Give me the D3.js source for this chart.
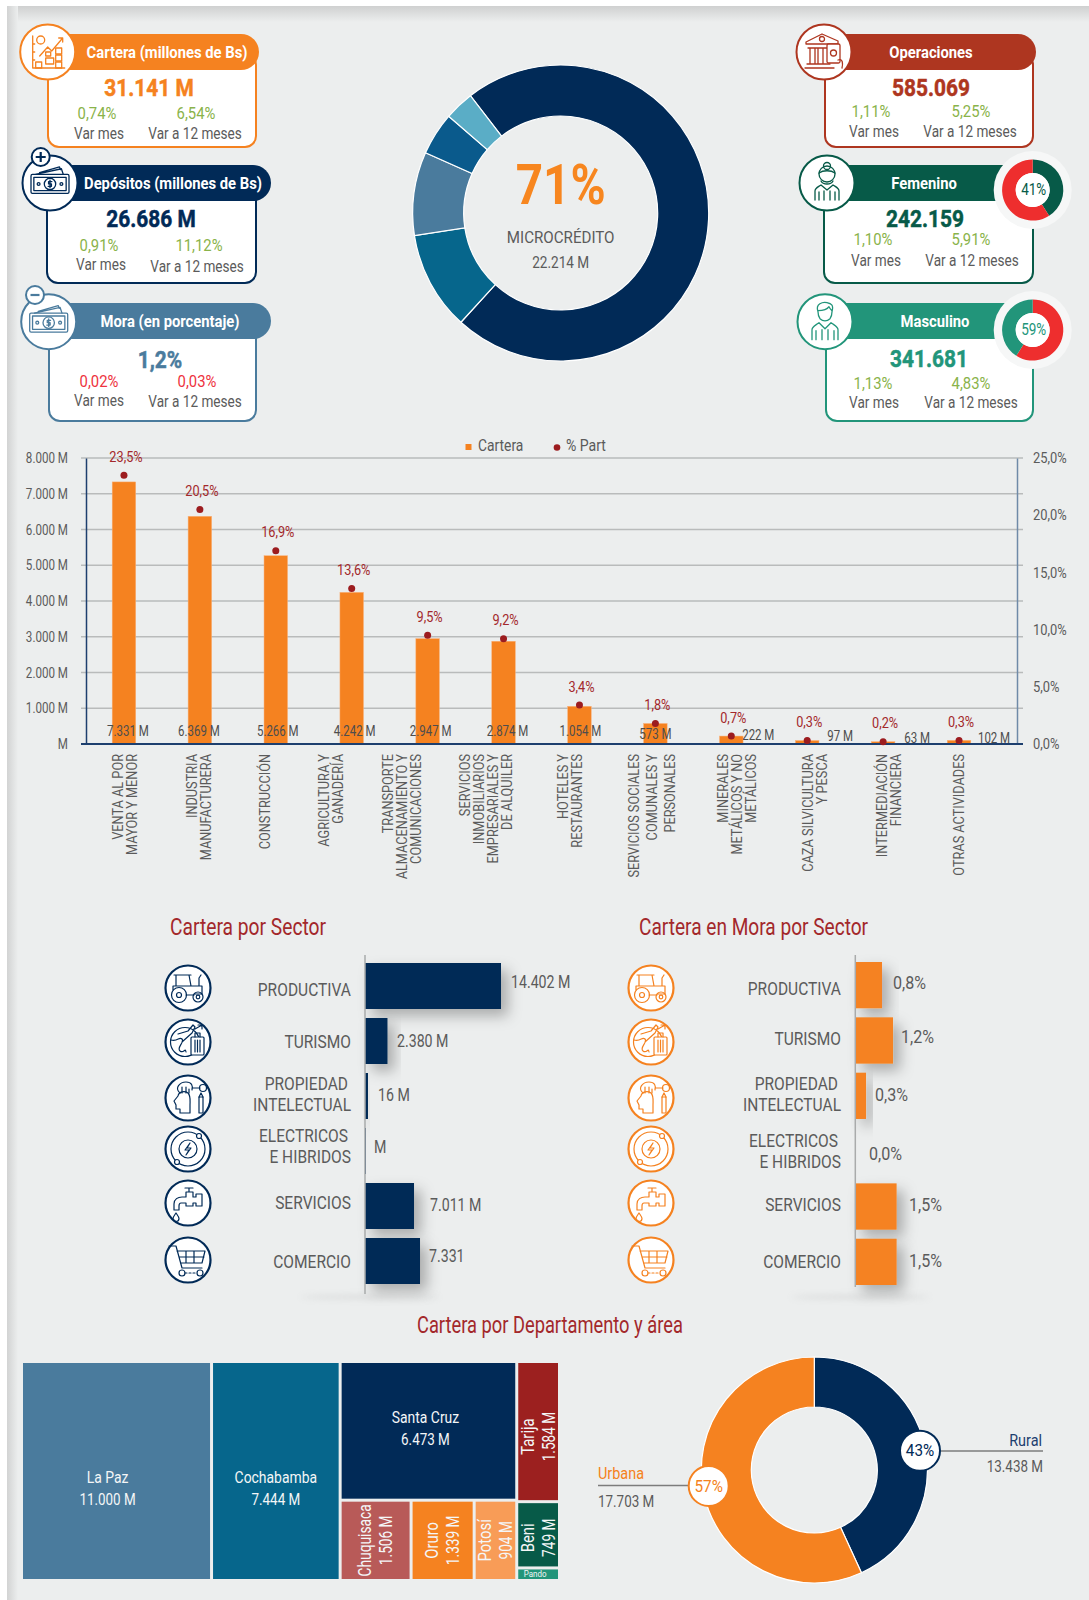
<!DOCTYPE html>
<html><head><meta charset="utf-8">
<script src="https://cdn.jsdelivr.net/npm/d3@7"></script>
<style>
html,body{margin:0;padding:0;background:#fff}
svg{display:block}
text{font-family:"Roboto","Liberation Sans",sans-serif}
</style></head><body><div id="c"></div>
<script>
// ---------- DATA ----------
const categories = [
 ["VENTA AL POR","MAYOR Y MENOR"],["INDUSTRIA","MANUFACTURERA"],["CONSTRUCCIÓN"],["AGRICULTURA Y","GANADERÍA"],
 ["TRANSPORTE","ALMACENAMIENTO Y","COMUNICACIONES"],["SERVICIOS","INMOBILIARIOS","EMPRESARIALES Y","DE ALQUILER"],
 ["HOTELES Y","RESTAURANTES"],["SERVICIOS SOCIALES","COMUNALES Y","PERSONALES"],["MINERALES","METÁLICOS Y NO","METÁLICOS"],
 ["CAZA SILVICULTURA","Y PESCA"],["INTERMEDIACIÓN","FINANCIERA"],["OTRAS ACTIVIDADES"]];
const cartera = [7331,6369,5266,4242,2947,2874,1054,573,222,97,63,102];
const part = [23.5,20.5,16.9,13.6,9.5,9.2,3.4,1.8,0.7,0.3,0.2,0.3];
const leftTicks = [0,1000,2000,3000,4000,5000,6000,7000,8000];
const rightTicks = [0,5,10,15,20,25];
const microShare = [22214,3315,2802,1435,991];
const sectorNames = [["PRODUCTIVA"],["TURISMO"],["PROPIEDAD","INTELECTUAL"],["ELECTRICOS","E HIBRIDOS"],["SERVICIOS"],["COMERCIO"]];
const sectorBars = [14402,2380,316,100,5190,5826];
const sectorLabels = ["14.402 M","2.380 M","16 M","M","7.011 M","7.331"];
const moraBars = [0.97,1.37,0.39,0,1.5,1.5];
const moraLabels = ["0,8%","1,2%","0,3%","0,0%","1,5%","1,5%"];
const deptNames = ["La Paz","Cochabamba","Santa Cruz","Chuquisaca","Oruro","Potosí","Tarija","Beni","Pando"];
const deptValues = [11000,7444,6473,1506,1339,904,1584,749,142];
const areaNames = ["Rural","Urbana"];
const areaValues = [13438,17703];
const femShare = [41,59];
const mascShare = [59,41];

// ---------- SETUP ----------
const NAVY="#012a57",ORANGE="#f58220",STEEL="#4a7b9d",TEAL="#06668c",BRICK="#ae3620",DGREEN="#075a48",GREEN="#22957a",
 GREY="#5b5b5b",MAROON="#a3282b",LGREEN="#8ab34a",RED="#ee3340",BG="#eceeee";
const svg=d3.select("#c").append("svg").attr("width",1089).attr("height",1600);
const defs=svg.append("defs");
let g1=defs.append("linearGradient").attr("id","st").attr("x1",0).attr("x2",0).attr("y1",0).attr("y2",1);
g1.append("stop").attr("offset",0).attr("stop-color","#cfd0d0");g1.append("stop").attr("offset",1).attr("stop-color",BG);
let g2=defs.append("linearGradient").attr("id","sl");
g2.append("stop").attr("offset",0).attr("stop-color","#d2d3d3");g2.append("stop").attr("offset",1).attr("stop-color",BG);
defs.append("filter").attr("id","ds").attr("x","-40%").attr("y","-40%").attr("width","200%").attr("height","200%")
 .append("feDropShadow").attr("dx",7).attr("dy",7).attr("stdDeviation",7).attr("flood-color","#000").attr("flood-opacity",.28);
defs.append("filter").attr("id","bl").attr("x","-30%").attr("y","-200%").attr("width","160%").attr("height","500%")
 .append("feGaussianBlur").attr("stdDeviation",3);
svg.append("rect").attr("width",1089).attr("height",1600).attr("fill","#fff");
svg.append("rect").attr("x",7).attr("y",6).attr("width",1082).attr("height",1594).attr("fill",BG);
svg.append("rect").attr("x",7).attr("y",6).attr("width",1082).attr("height",16).attr("fill","url(#st)");
svg.append("rect").attr("x",7).attr("y",6).attr("width",11).attr("height",1594).attr("fill","url(#sl)");

// text helper: Roboto is condensed horizontally (sx) to reach the reference's narrow grotesque widths
function T(p,x,y,s,o={}){
 const e=p.append("text").text(s)
  .attr("transform",`translate(${x},${y})${o.rot!=null?` rotate(${o.rot})`:""} scale(${o.sx||.84},1)`)
  .attr("font-size",o.size||16).attr("fill",o.fill||GREY).attr("text-anchor",o.anchor||"middle")
  .attr("dominant-baseline","central");
 if(o.weight)e.attr("font-weight",o.weight);
 if(o.stroke)e.attr("stroke",o.fill).attr("stroke-width",o.stroke);
 return e;
}

// ---------- ICONS (local box about ±18) ----------
const icons={
 tractor:g=>{g.append("path").attr("d","M-14-13H3M-12-13V-2M1-13L3-2M-15-2H14V6H7M-2 7H6M-15-2V2M11-2V-10L13-13");
  [[-9,7,7.5],[-9,7,2.5],[10,9,5],[10,9,1.8]].forEach(c=>g.append("circle").attr("cx",c[0]).attr("cy",c[1]).attr("r",c[2]));},
 travel:g=>{g.append("circle").attr("cx",-3).attr("cy",0).attr("r",14.5);
  g.append("path").attr("d","M-17-2C-10 0-9-6-6-3S-12 6-8 9-3 5-2 10M-10-8L0-11 5-17 7-15 4-9 -6 0M7-13L14-17M10-17H14V-13");
  g.append("rect").attr("x",3).attr("y",-5).attr("width",13).attr("height",18).attr("rx",1).attr("fill","#fff");
  g.append("path").attr("d","M7-5V-9H12V-5M7-2V10M9.5-2V10M12-2V10");},
 idea:g=>{g.append("path").attr("d","M-14 3L-10-2C-9-7-3-7 0-5 3-2 2 3 2 7V15H-8V11H-12V7Z");
  g.append("path").attr("d","M-8-5C-14-10-8-16-2-16S5-12 4-8M-6-5V-11M-2-5V-11M1-5V-9M4-10H12");
  g.append("circle").attr("cx",15).attr("cy",-10).attr("r",3.5);
  g.append("rect").attr("x",11).attr("y",-1).attr("width",4).attr("height",16);
  g.append("path").attr("d","M11-1L13-5 15-1");},
 energy:g=>{g.append("circle").attr("r",17);g.append("circle").attr("r",9);
  g.append("path").attr("d","M2-6L-3 1H1L-2 6 3-1H-1Z");
  g.append("circle").attr("cx",11).attr("cy",-13).attr("r",2.5).attr("fill","#fff");g.append("circle").attr("cx",-11).attr("cy",13).attr("r",2.5).attr("fill","#fff");},
 tap:g=>{g.append("path").attr("d","M-14 7V1C-14-4-10-6-6-6H-2V-11H5V-6H8V-9H14V3H8V0H5V3H-2V0H-7C-8 0-9 1-9 3V7ZM1-11V-15M-3-15H5");
  g.append("path").attr("d","M-12 10C-14 13-15 14-15 15.5A3 3 0 0 0-9 15.5C-9 14-10 13-12 10Z");},
 cart:g=>{g.append("path").attr("d","M-19-14H-12L-6 8H14M-11-9H17L14 3H-7.5M-2-9V3M6-9V3M-9-3H16");
  g.append("circle").attr("cx",-6).attr("cy",13).attr("r",3);g.append("circle").attr("cx",12).attr("cy",13).attr("r",3);
  g.append("path").attr("d","M-3 13H9").attr("stroke-dasharray","2 2");},
 chart:g=>{g.append("path").attr("d","M-15-16V16H17M-15-8H-13M-15 0H-13M-15 8H-13M-8 4L0-5 4-1 15-14M11-14H15V-10");
  g.append("circle").attr("cx",-7).attr("cy",-12).attr("r",4);
  [[-12,10,6],[-2,6,8],[8,-4,6],[8,3,6],[8,10,6],[-2,0,5]].forEach(r=>g.append("rect").attr("x",r[0]).attr("y",r[1]).attr("width",r[2]).attr("height",r[2]==5?4:6));},
 money:g=>{g.append("path").attr("d","M-15-9L12-15 14-9M-11-11L10-17 11-14");
  g.append("rect").attr("x",-20).attr("y",-9).attr("width",40).attr("height",20).attr("rx",1.5);
  g.append("rect").attr("x",-17).attr("y",-6).attr("width",34).attr("height",14);
  g.append("circle").attr("cy",1).attr("r",6);g.append("circle").attr("cx",-12).attr("cy",1).attr("r",1.5);g.append("circle").attr("cx",12).attr("cy",1).attr("r",1.5);
  g.append("path").attr("d","M2-1.5H-1.5V1H1.5V3.5H-2M0-3V5");},
 bank:g=>{g.append("path").attr("d","M-18-10L-2-18 14-11V-8H-18ZM-16-4H6M-14-4V12M-9-4V12M-6-4V12M-1-4V12M-17 12H6M-19 16H10");
  g.append("circle").attr("cx",-2).attr("cy",-13).attr("r",2.5);
  g.append("rect").attr("x",3).attr("y",-8).attr("width",13).attr("height",19).attr("rx",1.5).attr("fill","#fff");
  g.append("circle").attr("cx",9.5).attr("cy",1).attr("r",3);
  g.append("path").attr("d","M14 8C19 6 19 12 18 16");},
 woman:g=>{g.append("circle").attr("cy",-17).attr("r",3.5);g.append("circle").attr("cy",-9).attr("r",8);
  g.append("path").attr("d","M-8-10C-4-13 4-13 8-10M-6-2C-4 2 4 2 6-2M-12 17V8C-12 5-9 4-6 2L0 7 6 2C9 4 12 5 12 8V17M-8 17V9M8 17V9M-3 17V8M3 17V8");},
 man:g=>{g.append("path").attr("d","M-7-10C-10-18-2-20 2-19S9-17 7-10C7-8 7-6 5-3 2 0-2 0-5-3-7-6-7-8-7-10ZM-7-11C-3-11 2-12 4-15 5-13 6-12 7-11");
  g.append("path").attr("d","M-13 18V8C-13 5-10 4-6 1L0 7 6 1C10 4 13 5 13 8V18M-9 18V9M9 18V9M-3 18V8M3 18V8");}
};
function icon(p,name,x,y,r,color,k=1,sw=1.4,circ=2.5){
 p.append("circle").attr("cx",x).attr("cy",y).attr("r",r).attr("fill","#fff").attr("stroke",color).attr("stroke-width",circ);
 const g=p.append("g").attr("transform",`translate(${x},${y}) scale(${k})`).attr("fill","none").attr("stroke",color)
  .attr("stroke-width",sw/k).attr("stroke-linejoin","round").attr("stroke-linecap","round");
 icons[name](g);
}

// ---------- KPI CARDS ----------
const cards=[
 {c:ORANGE,box:[48,256,147],head:[47,259,34],circ:[47.7,52],ic:"chart",title:"Cartera (millones de Bs)",tx:167,val:"31.141 M",vx:149,vy:87,
  a:["0,74%",97,113],b:["6,54%",196,113],m:[99,133],y:[195,133],pc:LGREEN},
 {c:NAVY,box:[47,256,283],head:[47,271,165],circ:[50,183],ic:"money",title:"Depósitos (millones de Bs)",tx:173,val:"26.686 M",vx:151,vy:218.5,
  a:["0,91%",99,245],b:["11,12%",199,245],m:[101,264.5],y:[197,266],pc:LGREEN,sign:["+",40.7,157]},
 {c:STEEL,box:[49,256,421],head:[47,271,303],circ:[48.7,321.7],ic:"money",title:"Mora (en porcentaje)",tx:170,val:"1,2%",vx:160,vy:359,
  a:["0,02%",99,381],b:["0,03%",197,381],m:[99,400.6],y:[195,401],pc:RED,sign:["-",35,295]},
 {c:BRICK,box:[825,1033,147],head:[824,1036,34],circ:[824,52],ic:"bank",title:"Operaciones",tx:931,val:"585.069",vx:931,vy:87,
  a:["1,11%",871,111],b:["5,25%",971,111],m:[874,131],y:[970,131],pc:LGREEN},
 {c:DGREEN,box:[824,1033,283],head:[827,1005,165],circ:[827,183],ic:"woman",title:"Femenino",tx:924,val:"242.159",vx:925,vy:218.5,flat:1,
  a:["1,10%",873,239],b:["5,91%",971,239],m:[876,260],y:[972,260],pc:LGREEN,
  donut:{cy:190,vals:femShare,cols:[DGREEN,"#ee2e2e"],lab:"41%"}},
 {c:GREEN,box:[826,1033,421],head:[825,1005,303],circ:[825,321.7],ic:"man",title:"Masculino",tx:935,val:"341.681",vx:929,vy:358,flat:1,
  a:["1,13%",873,383],b:["4,83%",971,383],m:[874,402.5],y:[971,402.5],pc:LGREEN,
  donut:{cy:330,vals:mascShare,cols:["#ee2e2e",GREEN],lab:"59%"}}
];
const cardLayer=svg.append("g");
cards.forEach(d=>{
 const g=cardLayer.append("g"),y0=d.head[2];
 g.append("rect").attr("x",d.box[0]).attr("y",y0+20).attr("width",d.box[1]-d.box[0]).attr("height",d.box[2]-y0-20)
  .attr("rx",11).attr("fill","#fff").attr("stroke",d.c).attr("stroke-width",2);
 g.append("rect").attr("x",d.head[0]).attr("y",y0).attr("width",d.head[1]-d.head[0]).attr("height",36)
  .attr("rx",d.flat?0:18).attr("fill",d.c);
 icon(g,d.ic,d.circ[0],d.circ[1],27.5,d.c,d.ic=="money"?.95:1,1.3,2);
 if(d.sign){
  const [s,sx,sy]=d.sign;
  g.append("circle").attr("cx",sx).attr("cy",sy).attr("r",9).attr("fill","#fff").attr("stroke",d.c).attr("stroke-width",2);
  g.append("path").attr("d",s=="+"?`M${sx-5} ${sy}H${sx+5}M${sx} ${sy-5}V${sy+5}`:`M${sx-4.5} ${sy}H${sx+4.5}`).attr("stroke",d.c).attr("stroke-width",2.2);
 }
 T(g,d.tx,y0+18,d.title,{size:17,weight:"bold",fill:"#fff",sx:.87});
 T(g,d.vx,d.vy,d.val,{size:24,weight:"bold",fill:d.c,sx:.87,stroke:.5});
 T(g,d.a[1],d.a[2],d.a[0],{size:16.5,fill:d.pc,sx:.9});
 T(g,d.b[1],d.b[2],d.b[0],{size:16.5,fill:d.pc,sx:.9});
 T(g,d.m[0],d.m[1],"Var mes",{size:17,sx:.8});
 T(g,d.y[0],d.y[1],"Var a 12 meses",{size:17,sx:.8});
 if(d.donut){
  const cx=1032.7,cy=d.donut.cy;
  g.append("circle").attr("cx",cx).attr("cy",cy).attr("r",39).attr("fill","#f6f7f7");
  const pie=d3.pie().sort(null)(d.donut.vals),arc=d3.arc().innerRadius(17).outerRadius(30.6);
  g.append("g").attr("transform",`translate(${cx},${cy})`).selectAll("path").data(pie).join("path").attr("d",arc).attr("fill",(e,i)=>d.donut.cols[i]);
  g.append("circle").attr("cx",cx).attr("cy",cy).attr("r",17).attr("fill","#fff");
  T(g,cx+1,cy,d.donut.lab,{size:16.5,fill:d.c,sx:.82});
 }
});

// ---------- CENTRAL DONUT ----------
const mc=svg.append("g").attr("transform","translate(560.7,213)");
const microCols=[NAVY,TEAL,STEEL,"#0a5a8c","#5aadc6"];
const a0=-37.6*Math.PI/180;
mc.selectAll("path").data(d3.pie().sort(null).startAngle(a0).endAngle(a0+2*Math.PI)(microShare)).join("path")
 .attr("d",d3.arc().innerRadius(97).outerRadius(148)).attr("fill",(d,i)=>microCols[i]).attr("stroke","#fff").attr("stroke-width",1.2);
T(mc,0,-28,"71%",{size:56,weight:"bold",fill:"#f7861f",sx:.85});
T(mc,0,24,"MICROCRÉDITO",{size:17,sx:.89});
T(mc,0,49,"22.214 M",{size:17,sx:.8});

// ---------- BAR + DOT CHART ----------
const yL=d3.scaleLinear().domain([0,8000]).range([744,458]);
const yR=d3.scaleLinear().domain([0,25]).range([744,458]);
const xB=d3.scaleBand().domain(d3.range(12)).range([86,997]).paddingInner(.69).paddingOuter(.345);
const fmtM=v=>v==0?"M":d3.format(",")(v).replace(/,/g,".")+" M";
const condense=(ax,k)=>ax.selectAll("text").each(function(){const t=d3.select(this),x=+t.attr("x");
  t.attr("x",0).attr("transform",`translate(${x},0) scale(${k},1)`).attr("font-size",14.5).attr("fill",GREY).attr("font-family",null);});
const ch=svg.append("g");
ch.selectAll("line.grid").data(leftTicks).join("line").attr("x1",81).attr("x2",1023).attr("y1",d=>yL(d)).attr("y2",d=>yL(d)).attr("stroke","#b9bbbb").attr("stroke-width",1.5);
const axL=ch.append("g").attr("transform","translate(86,0)").call(d3.axisLeft(yL).tickValues(leftTicks).tickFormat(fmtM).tickSize(0).tickPadding(18));
axL.select("path").attr("stroke","#1d3f6e").attr("stroke-width",1.5);
condense(axL,.8);
const axR=ch.append("g").attr("transform","translate(1017,0)").call(d3.axisRight(yR).tickValues(rightTicks).tickFormat(d=>d.toFixed(1).replace(".",",")+"%").tickSize(0).tickPadding(16));
axR.select("path").attr("stroke","#6f8aa8").attr("stroke-width",1.5);
condense(axR,.89);
ch.selectAll("rect.b").data(cartera).join("rect").attr("x",(d,i)=>xB(i)).attr("width",xB.bandwidth()).attr("y",d=>yL(d)).attr("height",d=>744-yL(d)).attr("fill",ORANGE).attr("stroke","#f9b078").attr("stroke-width",.5);
ch.append("line").attr("x1",81).attr("x2",1023).attr("y1",744).attr("y2",744).attr("stroke","#1d3f6e").attr("stroke-width",2);
ch.selectAll("circle.d").data(part).join("circle").attr("cx",(d,i)=>xB(i)+xB.bandwidth()/2).attr("cy",d=>yR(d)).attr("r",3.5).attr("fill","#9c1c1f");
part.forEach((p,i)=>T(ch,xB(i)+xB.bandwidth()/2+2,yR(p)-18,p.toFixed(1).replace(".",",")+"%",{size:14,fill:MAROON,sx:.91}));
const valDx=[4,-1,2,3,3,4,1,0,27,33,34,35], valY=[731,731,731,731,731,731,731,734,735,736,738,738];
cartera.forEach((v,i)=>T(ch,xB(i)+xB.bandwidth()/2+valDx[i],valY[i],d3.format(",")(v).replace(/,/g,".")+" M",{size:14,fill:"#4d4d4d",sx:.82}));
const catDx=[1,-1,-10,-20,-25,-17,-9,-3,6,8,6,0];
categories.forEach((c,i)=>{
 const cx=xB(i)+xB.bandwidth()/2+catDx[i], st=i==7?18:14;
 c.forEach((l,j)=>{
  const x=cx+(j-(c.length-1)/2)*st;
  T(ch,x,754,l,{size:14,rot:-90,anchor:"end",sx:.91});
 });
});
// legend
ch.append("rect").attr("x",465.5).attr("y",444).attr("width",6).attr("height",6).attr("fill",ORANGE);
T(ch,478,445.5,"Cartera",{size:16,anchor:"start",sx:.865});
ch.append("circle").attr("cx",557).attr("cy",447.5).attr("r",3.3).attr("fill","#9c1c1f");
T(ch,566,445.5,"% Part",{size:16,anchor:"start",sx:.88});

// ---------- SECTOR BARS ----------
const title=(x,y,s,sx)=>T(svg,x,y,s,{size:23,fill:MAROON,anchor:"start",sx});
title(170,927,"Cartera por Sector",.836);
title(639,927,"Cartera en Mora por Sector",.83);
title(417,1325,"Cartera por Departamento y área",.796);
const iconNames=["tractor","travel","idea","energy","tap","cart"];
const iconY=[988,1042,1098,1149,1203,1260];
function sectorChart(o){
 const g=svg.append("g");
 const yS=d3.scaleBand().domain(d3.range(6)).range(o.yr).paddingInner(.1636);
 const xS=d3.scaleLinear().domain([0,o.max]).range([o.x0,o.x0+o.w]);
 g.append("ellipse").attr("cx",o.x0+5).attr("cy",1297).attr("rx",70).attr("ry",2).attr("fill","#aaa").attr("filter","url(#bl)").attr("opacity",.3);
 g.selectAll("rect.s").data(o.vals).join("rect").attr("x",o.x0).attr("y",(d,i)=>yS(i)).attr("width",d=>xS(d)-o.x0).attr("height",yS.bandwidth())
  .attr("fill",o.color).attr("filter",d=>d>o.max*.02?"url(#ds)":null);
 g.append("line").attr("x1",o.x0).attr("x2",o.x0).attr("y1",955).attr("y2",o.yb).attr("stroke","#a9abab").attr("stroke-width",1.5);
 sectorNames.forEach((n,i)=>n.forEach((l,j)=>T(g,o.lx-(j==0&&n.length>1?3:0),o.ly[i]+j*21,l,{size:18.5,anchor:"end",sx:.84})));
 o.labels.forEach((l,i)=>T(g,o.vx[i],o.vy[i],l,{size:17.5,anchor:"start",sx:o.vsx}));
 iconNames.forEach((n,i)=>icon(g,n,o.ix,iconY[i],22.5,o.color,1,1.2,2.2));
}
sectorChart({x0:365,w:136,max:14402,yr:[963,1284],yb:1294,vals:sectorBars,color:NAVY,lx:351,ly:[990,1042,1084,1136,1203,1262],vsx:.81,
 labels:sectorLabels,vx:[511,397,378,374,430,429],vy:[982,1041,1095,1147,1205,1256],ix:188});
sectorChart({x0:855.3,w:41.3,max:1.5,yr:[962,1285],yb:1287,vals:moraBars,color:ORANGE,lx:841,ly:[989,1039,1084,1141,1205,1262],vsx:.92,
 labels:moraLabels,vx:[893,901,875,869,909,909],vy:[983,1037,1095,1154,1205,1261],ix:651});

// ---------- TREEMAP ----------
const deptColors=[STEEL,TEAL,NAVY,"#b85a58",ORANGE,"#f89c57","#9c201f",DGREEN,GREEN];
const leaf=i=>({i,value:deptValues[i]});
const tree={tile:"dice",children:[leaf(0),leaf(1),{tile:"dice",children:[
  {tile:"slice",children:[leaf(2),{tile:"dice",children:[leaf(3),leaf(4),leaf(5)]}]},
  {tile:"slice",children:[leaf(6),leaf(7),leaf(8)]}]}]};
const root=d3.hierarchy(tree).sum(d=>d.value||0);
d3.treemap().size([535,216]).paddingInner(3).round(false)
 .tile((n,x0,y0,x1,y1)=>(n.data.tile=="slice"?d3.treemapSlice:d3.treemapDice)(n,x0,y0,x1,y1))(root);
const tm=svg.append("g").attr("transform","translate(23,1363)");
tm.selectAll("rect").data(root.leaves()).join("rect").attr("x",d=>d.x0).attr("y",d=>d.y0).attr("width",d=>d.x1-d.x0).attr("height",d=>d.y1-d.y0).attr("fill",d=>deptColors[d.data.i]);
const WH="#f4f6f7";
root.leaves().forEach(d=>{
 const i=d.data.i,n=deptNames[i],v=d3.format(",")(deptValues[i]).replace(/,/g,".")+" M",
  w=d.x1-d.x0,cx=(d.x0+d.x1)/2,cy=(d.y0+d.y1)/2;
 if(i==8){T(tm,cx-3,cy,n,{size:9.5,fill:WH});return;}
 if(w>100){const ox=i==0?-9:i==1?0:-3;
  const y=i==2?65.5:125.5;
  T(tm,cx+ox,y-10.5,n,{size:17,fill:WH,sx:.82});T(tm,cx+ox,y+10.5,v,{size:17,fill:WH,sx:.79});}
 else{const oy=i==6?5:i==7?3:0;
  T(tm,cx-10.5,cy+oy,n,{size:17.5,fill:WH,rot:-90,sx:i==3?.79:.85});T(tm,cx+10.5,cy+oy,v,{size:17.5,fill:WH,rot:-90,sx:.78});}
});

// ---------- AREA DONUT ----------
const ad=svg.append("g").attr("transform","translate(814.3,1470)");
const areaCols=[NAVY,ORANGE];
ad.selectAll("path").data(d3.pie().sort(null)(areaValues)).join("path").attr("d",d3.arc().innerRadius(63).outerRadius(113)).attr("fill",(d,i)=>areaCols[i]).attr("stroke","#fff").attr("stroke-width",1.2);
const pct=areaValues.map(v=>Math.round(v/d3.sum(areaValues)*100)+"%");
const lg=svg.append("g");
lg.append("line").attr("x1",941).attr("x2",1043).attr("y1",1451).attr("y2",1451).attr("stroke","#7c7c7c").attr("stroke-width",1.3);
lg.append("line").attr("x1",598).attr("x2",690).attr("y1",1485.5).attr("y2",1485.5).attr("stroke","#7c7c7c").attr("stroke-width",1.3);
[[920,1450.7,NAVY,0],[708.7,1486,ORANGE,1]].forEach(b=>{
 lg.append("circle").attr("cx",b[0]).attr("cy",b[1]).attr("r",20).attr("fill","#fff").attr("stroke",b[2]).attr("stroke-width",2);
 T(lg,b[0],b[1],pct[b[3]],{size:17,fill:b[2],sx:.9});
});
T(lg,1042,1440,areaNames[0],{size:17,fill:"#1d3f6e",anchor:"end",sx:.85});
T(lg,1043,1466,"13.438 M",{size:17,anchor:"end",sx:.79});
T(lg,598,1473,areaNames[1],{size:17,fill:ORANGE,anchor:"start",sx:.85});
T(lg,598,1501,"17.703 M",{size:17,anchor:"start",sx:.79});
</script></body></html>
